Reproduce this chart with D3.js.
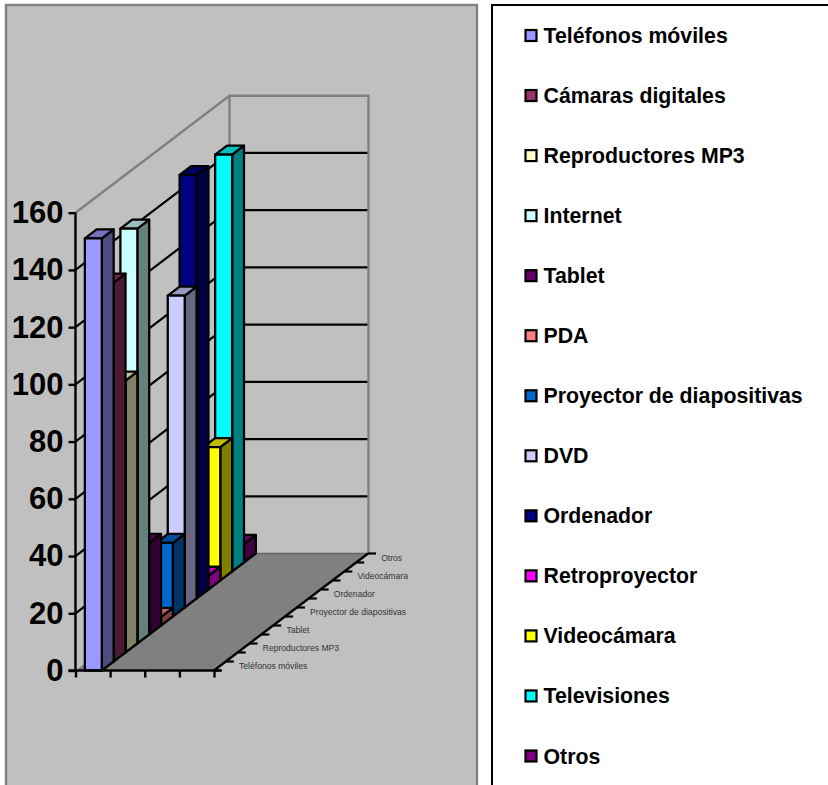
<!DOCTYPE html>
<html>
<head>
<meta charset="utf-8">
<script src="https://cdn.jsdelivr.net/npm/d3@7/dist/d3.min.js"></script>
<style>
html,body{margin:0;padding:0;background:#fff;overflow:hidden}
svg{display:block}
text{font-family:"Liberation Sans",Arial,sans-serif}
</style>
</head>
<body>
<svg id="c" width="828" height="785"></svg>
<script>
const seriesNames = ["Teléfonos móviles","Cámaras digitales","Reproductores MP3","Internet","Tablet","PDA","Proyector de diapositivas","DVD","Ordenador","Retroproyector","Videocámara","Televisiones","Otros"];
const seriesValues = [151,132.4,95,145,32,3,25.7,109,148,4.8,46.6,145.7,6.5];
const seriesColors = ["#9999ff","#993366","#ffffcc","#ccffff","#660066","#ff8080","#0066cc","#ccccff","#000080","#ff00ff","#ffff00","#00ffff","#800080"];
const valueTicks = [0,20,40,60,80,100,120,140,160];
const depthTickLabels = ["Teléfonos móviles","Reproductores MP3","Tablet","Proyector de diapositivas","Ordenador","Videocámara","Otros"];

const svg = d3.select("#c");
const y = d3.scaleLinear().domain([0,160]).range([670.5,212.7]);
const xCat = d3.scaleLinear().domain([0,4]).range([75.5,214]);
const dX = d3.scaleLinear().domain([0,13]).range([0,154]);
const dY = d3.scaleLinear().domain([0,13]).range([0,-117]);
const path = pts => "M"+pts.map(p=>p.join(",")).join("L")+"Z";
const shade = (c,k)=>{const r=d3.rgb(c);return d3.rgb(r.r*k,r.g*k,r.b*k).formatHex();};

// chart panel
svg.append("rect").attr("x",6).attr("y",5).attr("width",471).attr("height",790)
  .attr("fill","#c0c0c0").attr("stroke","#808080").attr("stroke-width",2.4);

// legend panel
svg.append("rect").attr("x",492).attr("y",5).attr("width",400).attr("height",800)
  .attr("fill","#fff").attr("stroke","#000").attr("stroke-width",2);

const legendY = d3.scalePoint().domain(seriesNames).range([35.5,756]);
const legend = svg.append("g").selectAll("g").data(seriesNames).join("g")
  .attr("transform",d=>`translate(0,${legendY(d)})`);
legend.append("rect").attr("x",525.5).attr("y",-5.5).attr("width",11).attr("height",11)
  .attr("fill",(d,i)=>seriesColors[i]).attr("stroke","#000").attr("stroke-width",2.2);
legend.append("text").attr("x",543.5).attr("y",7.5).attr("font-size",21.3).attr("font-weight","bold")
  .attr("fill","#000").text(d=>d);

// walls
const x0 = xCat(0), x4 = xCat(4), bx = x0+dX(13), dy = dY(13), right = bx+139;
const plot = svg.append("g");
// floor
plot.append("path").attr("d",path([[x0,y(0)],[x4,y(0)],[x4+dX(13),y(0)+dy],[bx,y(0)+dy]])).attr("fill","#808080");
// gridlines
const minor = valueTicks.filter(v=>v>0 && v<160);
plot.selectAll("path.g").data(minor).join("path").attr("class","g")
  .attr("fill","none").attr("stroke","#000").attr("stroke-width",2.2)
  .attr("d",v=>`M${x0},${y(v)}L${bx},${y(v)+dy}L${right},${y(v)+dy}`);
// gray wall frame
plot.append("path").attr("fill","none").attr("stroke","#808080").attr("stroke-width",2.4)
  .attr("d",`M${x0},${y(160)}L${bx},${y(160)+dy}L${right},${y(160)+dy}L${right},${y(0)+dy}`);
plot.append("path").attr("fill","none").attr("stroke","#808080").attr("stroke-width",2.4)
  .attr("d",`M${bx},${y(160)+dy}L${bx},${y(0)+dy}`);
plot.append("path").attr("fill","none").attr("stroke","#666").attr("stroke-width",1.6)
  .attr("d",`M${bx},${y(0)+dy}L${right},${y(0)+dy}`);

// bars, back to front
const bars = seriesValues.map((v,i)=>({v,i,c:seriesColors[i]})).reverse();
const bg = plot.selectAll("g.bar").data(bars).join("g").attr("class","bar")
  .attr("stroke","#000").attr("stroke-width",2.3).attr("stroke-linejoin","round");
const L = d=>xCat(0.27)+dX(d.i), R = d=>xCat(0.76)+dX(d.i);
const B = d=>y(0)+dY(d.i), T = d=>y(d.v)+dY(d.i);
const sx = dX(1), sy = dY(1);
bg.append("path").attr("fill",d=>shade(d.c,0.5))
  .attr("d",d=>path([[R(d),B(d)],[R(d)+sx,B(d)+sy],[R(d)+sx,T(d)+sy],[R(d),T(d)]]));
bg.append("path").attr("fill",d=>shade(d.c,0.75))
  .attr("d",d=>path([[L(d),T(d)],[R(d),T(d)],[R(d)+sx,T(d)+sy],[L(d)+sx,T(d)+sy]]));
bg.append("rect").attr("fill",d=>d.c)
  .attr("x",L).attr("y",T).attr("width",d=>R(d)-L(d)).attr("height",d=>B(d)-T(d));

// value axis
const yAxis = d3.axisLeft(y).tickValues(valueTicks).tickSize(7).tickPadding(5).tickFormat(d3.format("d"));
const ya = svg.append("g").attr("transform",`translate(${x0},0)`).call(yAxis);
ya.select(".domain").attr("stroke","#000").attr("stroke-width",2.4).attr("d",`M0,${y(160)}V${y(0)}`);
ya.selectAll(".tick line").attr("stroke","#000").attr("stroke-width",2.4);
ya.selectAll("text").attr("font-family","Liberation Sans").attr("font-size",31).attr("font-weight","bold").attr("fill","#000");

// category axis (no labels)
const xa = svg.append("g").attr("transform",`translate(0,${y(0)})`)
  .call(d3.axisBottom(xCat).tickValues([0,1,2,3,4]).tickSize(7).tickFormat(""));
xa.select(".domain").attr("stroke","#000").attr("stroke-width",2.4).attr("d",`M${x0-7},0H${x4+7}`);
xa.selectAll(".tick line").attr("stroke","#000").attr("stroke-width",2.4);

// depth axis
const depthSteps = d3.range(0,14);
svg.append("path").attr("fill","none").attr("stroke","#000").attr("stroke-width",2.4)
  .attr("d",`M${x4},${y(0)}L${x4+dX(13)},${y(0)+dy}`);
svg.selectAll("path.dt").data(depthSteps).join("path").attr("class","dt")
  .attr("fill","none").attr("stroke","#000").attr("stroke-width",2.2)
  .attr("d",s=>`M${x4+dX(s)},${y(0)+dY(s)}h8`);
svg.selectAll("text.dl").data(depthTickLabels).join("text").attr("class","dl")
  .attr("x",(d,i)=>239+dX(i*2)).attr("y",(d,i)=>y(0)+dY(i*2)-1.8)
  .attr("font-size",8.6).attr("fill","#333").text(d=>d);
</script>
</body>
</html>
